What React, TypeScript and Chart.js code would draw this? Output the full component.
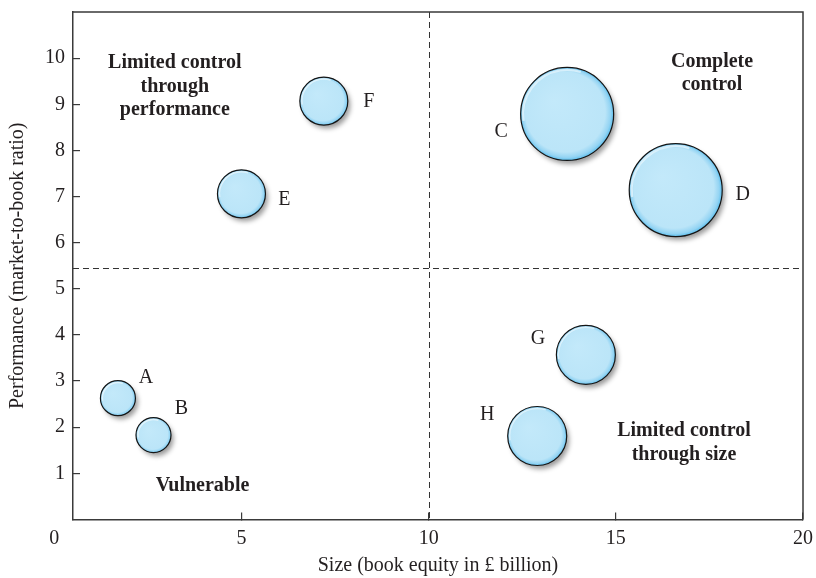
import React, { useEffect, useRef } from 'react';
import { Chart, registerables } from 'chart.js';

Chart.register(...registerables);

// ---- data ----
const companies = ['A', 'B', 'C', 'D', 'E', 'F', 'G', 'H'];
const bookEquity = [1.7, 2.65, 13.7, 16.6, 5.0, 7.2, 14.2, 12.9]; // £ billion
const marketToBook = [2.63, 1.83, 8.79, 7.14, 7.06, 9.07, 3.57, 1.81];
const bubbleSize = [17.5, 17.5, 46.5, 46.5, 24, 24, 29.5, 29.5];
const xTickValues = [0, 5, 10, 15, 20];
const yTickValues = [1, 2, 3, 4, 5, 6, 7, 8, 9, 10];
const sizeDivider = 10;
const performanceDivider = 5.45;

// quadrant annotations (data coordinates of the first line centre)
const quadrantTexts = ['Limited control|through|performance', 'Complete|control', 'Vulnerable', 'Limited control|through size'];
const quadrantX = [3.22, 17.57, 3.96, 16.82];
const quadrantY = [9.89, 9.92, 0.73, 1.92];

// letter label offsets from bubble centre, in pixels
const labelDx = [28, 28, -66, 67, 43, 45, -48, -50];
const labelDy = [-20, -26, 18, 5, 6, 1, -16, -21];

const SERIF = "'Liberation Serif', 'Times New Roman', serif";
const INK = '#231f20';
const AXIS = '#3a3a3a';
const BUBBLE_FILL = '#bde6f8';

const decorPlugin = {
  id: 'decor',
  beforeDatasetsDraw(chart: any) {
    const { ctx, chartArea: a, scales } = chart;
    const x = scales.x;
    const y = scales.y;
    ctx.save();
    // dashed quadrant dividers
    ctx.strokeStyle = '#333';
    ctx.lineWidth = 1;
    ctx.setLineDash([6, 4]);
    const px = Math.round(x.getPixelForValue(sizeDivider)) + 0.5;
    ctx.beginPath();
    ctx.moveTo(px, a.top);
    ctx.lineTo(px, a.bottom);
    ctx.stroke();
    const py = Math.round(y.getPixelForValue(performanceDivider)) + 0.5;
    ctx.beginPath();
    ctx.moveTo(a.left, py);
    ctx.lineTo(a.right, py);
    ctx.stroke();
    ctx.setLineDash([]);

    // quadrant texts
    ctx.fillStyle = INK;
    ctx.font = `bold 20px ${SERIF}`;
    ctx.textAlign = 'center';
    ctx.textBaseline = 'middle';
    quadrantTexts.forEach((t, i) => {
      const cx = x.getPixelForValue(quadrantX[i]);
      const cy = y.getPixelForValue(quadrantY[i]);
      t.split('|').forEach((line, k) => ctx.fillText(line, cx, cy + k * 23.5));
    });

    // soft shadows under bubbles
    const meta = chart.getDatasetMeta(0);
    meta.data.forEach((el: any) => {
      const r = el.options.radius;
      ctx.save();
      ctx.shadowColor = 'rgba(0,0,0,0.4)';
      ctx.shadowBlur = 5;
      ctx.shadowOffsetX = 3;
      ctx.shadowOffsetY = 4;
      ctx.fillStyle = '#9a9a9a';
      ctx.beginPath();
      ctx.arc(el.x, el.y, r - 0.5, 0, Math.PI * 2);
      ctx.fill();
      ctx.restore();
    });
    ctx.restore();
  },
  afterDatasetsDraw(chart: any) {
    const { ctx, chartArea: a } = chart;
    ctx.save();
    const meta = chart.getDatasetMeta(0);
    // light rim highlight on the upper-left edge of each bubble
    meta.data.forEach((el: any) => {
      const r = el.options.radius;
      ctx.strokeStyle = 'rgba(255,255,255,0.55)';
      ctx.lineWidth = Math.max(1.5, r * 0.05);
      ctx.beginPath();
      ctx.arc(el.x, el.y, r - 1.2 - ctx.lineWidth / 2, Math.PI * 0.95, Math.PI * 1.6);
      ctx.stroke();
    });
    ctx.fillStyle = INK;
    ctx.font = `20px ${SERIF}`;
    ctx.textAlign = 'center';
    ctx.textBaseline = 'middle';
    meta.data.forEach((el: any, i: number) => {
      ctx.fillText(companies[i], el.x + labelDx[i], el.y + labelDy[i]);
    });
    // top and right frame
    ctx.strokeStyle = AXIS;
    ctx.lineWidth = 1.5;
    ctx.beginPath();
    ctx.moveTo(a.left, a.top);
    ctx.lineTo(a.right, a.top);
    ctx.lineTo(a.right, a.bottom);
    ctx.stroke();
    ctx.restore();
  },
};

function bubbleGradient(c: any) {
  if (!c || c.type !== 'data' || !c.raw) return BUBBLE_FILL;
  const sx = c.chart.scales && c.chart.scales.x;
  const sy = c.chart.scales && c.chart.scales.y;
  if (!sx || !sy) return BUBBLE_FILL;
  const cx = sx.getPixelForValue(c.raw.x);
  const cy = sy.getPixelForValue(c.raw.y);
  const r = c.raw.r;
  if (![cx, cy, r].every((v) => Number.isFinite(v))) return BUBBLE_FILL;
  const g = c.chart.ctx.createRadialGradient(cx - r * 0.3, cy - r * 0.3, 0, cx, cy, r);
  g.addColorStop(0, '#c3e9fa');
  g.addColorStop(0.86, '#bbe5f8');
  g.addColorStop(0.95, '#94d4f3');
  g.addColorStop(1, '#5cbeed');
  return g;
}

export default function App() {
  const ref = useRef<HTMLCanvasElement | null>(null);

  useEffect(() => {
    if (!ref.current) return;
    document.body.style.margin = '0';
    document.body.style.overflow = 'hidden';
    const points = companies.map((_, i) => ({ x: bookEquity[i], y: marketToBook[i], r: bubbleSize[i] }));
    const chart = new Chart(ref.current, {
      type: 'bubble',
      data: {
        datasets: [
          {
            label: 'Companies',
            data: points,
            borderColor: '#151515',
            borderWidth: 1.2,
            backgroundColor: bubbleGradient,
          },
        ],
      },
      options: {
        responsive: false,
        animation: false,
        devicePixelRatio: 1,
        events: [],
        layout: { autoPadding: false, padding: { top: 12, right: 13, left: 0, bottom: 0 } },
        plugins: { legend: { display: false }, tooltip: { enabled: false } },
        scales: {
          x: {
            type: 'linear',
            min: 0.5,
            max: 20,
            afterFit: (s: any) => {
              s.height = 58.5;
              s.paddingLeft = 0;
              s.paddingRight = 0;
              s.paddingTop = 0;
              s.paddingBottom = 0;
            },
            afterBuildTicks: (s: any) => { s.ticks = xTickValues.map((v) => ({ value: v })); },
            ticks: { autoSkip: false, color: INK, font: { family: SERIF, size: 20 }, padding: 14, maxRotation: 0 },
            grid: {
              drawOnChartArea: false,
              drawTicks: true,
              tickLength: -7,
              color: (c: any) => (c.tick && c.tick.value === 0 ? 'rgba(0,0,0,0)' : AXIS),
              lineWidth: 1.2,
            },
            border: { display: true, color: AXIS, width: 1.5 },
            title: {
              display: true,
              text: 'Size (book equity in £ billion)',
              color: INK,
              font: { family: SERIF, size: 20, weight: 'normal' },
              padding: { top: 0, bottom: 0 },
            },
          },
          y: {
            type: 'linear',
            min: 0,
            max: 11,
            afterFit: (s: any) => {
              s.width = 73;
              s.paddingLeft = 0;
              s.paddingRight = 0;
              s.paddingTop = 0;
              s.paddingBottom = 0;
            },
            afterBuildTicks: (s: any) => { s.ticks = yTickValues.map((v) => ({ value: v })); },
            ticks: { autoSkip: false, color: INK, font: { family: SERIF, size: 20 }, padding: 15 },
            grid: { drawOnChartArea: false, drawTicks: true, tickLength: -7, color: AXIS, lineWidth: 1.2 },
            border: { display: true, color: AXIS, width: 1.5 },
            title: {
              display: true,
              text: 'Performance (market-to-book ratio)',
              color: INK,
              font: { family: SERIF, size: 20, weight: 'normal' },
              padding: { top: 6, bottom: 0 },
            },
          },
        },
      },
      plugins: [decorPlugin],
    } as any);
    return () => chart.destroy();
  }, []);

  return (
    <div style={{ width: 816, height: 578 }}>
      <canvas ref={ref} width={816} height={578} style={{ display: 'block' }} />
    </div>
  );
}
